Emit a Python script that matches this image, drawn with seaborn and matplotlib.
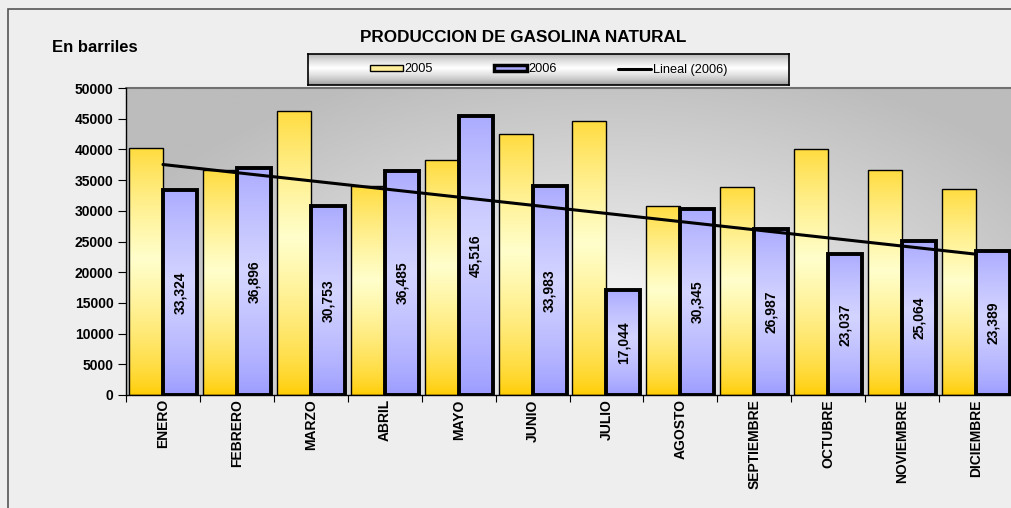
import numpy as np
import pandas as pd
import matplotlib
matplotlib.use("Agg")
import matplotlib.pyplot as plt
import seaborn as sns
from matplotlib.patches import Rectangle, Patch
from matplotlib.lines import Line2D
from matplotlib.colors import to_rgb

months = ["ENERO", "FEBRERO", "MARZO", "ABRIL", "MAYO", "JUNIO", "JULIO",
          "AGOSTO", "SEPTIEMBRE", "OCTUBRE", "NOVIEMBRE", "DICIEMBRE"]
prod_2005 = [40200, 36700, 46300, 34000, 38200, 42500, 44700,
             30800, 33800, 40100, 36700, 33600]
prod_2006 = [33324, 36896, 30753, 36485, 45516, 33983, 17044,
             30345, 26987, 23037, 25064, 23389]
years = ["2005", "2006"]
yticks = list(range(0, 50001, 5000))

sns.set_theme(style="white")
plt.rcParams['font.family'] = ['Liberation Sans', 'DejaVu Sans']
plt.rcParams['text.color'] = 'black'
plt.rcParams['xtick.color'] = 'black'
plt.rcParams['ytick.color'] = 'black'
plt.rcParams['axes.labelcolor'] = 'black'

df = pd.DataFrame({
    "mes": months * 2,
    "anio": [years[0]] * 12 + [years[1]] * 12,
    "valor": prod_2005 + prod_2006,
})

W, H = 1011, 508
fig = plt.figure(figsize=(W / 100, H / 100), dpi=100)
fig.patch.set_facecolor("#eeeeee")

# outer border
fig.add_artist(Rectangle((8 / W, -0.01), 1.02, 1 - 9 / H + 0.01, transform=fig.transFigure,
                         fill=False, edgecolor="#555555", linewidth=1.2))

pos = [126 / W, 1 - 395 / H, (W - 126) / W + 0.002, (395 - 88) / H]

# plot-area gradient background
bg = fig.add_axes(pos, zorder=0)
yy, xx = np.mgrid[0:1:300j, 0:1:600j]
cx, cy = 0.54, 0.22
d = np.sqrt(((xx - cx) / 0.6) ** 2 + ((yy - cy) / 0.9) ** 2)
d = np.clip(d, 0, 1) ** 0.85
white = np.array([1.0, 1.0, 1.0])
gray = np.array(to_rgb("#bcbcbc"))
img = white[None, None, :] * (1 - d[..., None]) + gray[None, None, :] * d[..., None]
bg.imshow(img, origin="lower", extent=[0, 1, 0, 1], aspect="auto")
bg.set_xlim(0, 1); bg.set_ylim(0, 1)
bg.axis("off")
bg.plot([0, 1], [1, 1], color="#707070", lw=1.5, transform=bg.transAxes, clip_on=False)

ax = fig.add_axes(pos, zorder=1)
ax.patch.set_alpha(0)

sns.barplot(data=df, x="mes", y="valor", hue="anio", order=months, hue_order=years,
            palette=["#ffcc00", "#9999ff"], width=0.92, legend=False, ax=ax,
            errorbar=None, saturation=1)

def grad_colors(c_edge, c_mid, n=256):
    t = np.linspace(0, 1, n)
    w = 1 - np.abs(t - 0.55) / 0.55
    w = np.clip(w, 0, 1) ** 0.7
    e = np.array(to_rgb(c_edge)); m = np.array(to_rgb(c_mid))
    return (e[None, :] * (1 - w[:, None]) + m[None, :] * w[:, None])[:, None, :]

g_yellow = grad_colors("#ffcc00", "#ffffcc")
g_blue = grad_colors("#9999ff", "#d4d4ff")

for cont, grad, lw in zip(ax.containers, [g_yellow, g_blue], [1.0, 2.8]):
    for p in cont.patches:
        x0, y0 = p.get_x(), p.get_y()
        w, h = p.get_width(), p.get_height()
        im = ax.imshow(grad, origin="lower", extent=[x0, x0 + w, y0, y0 + h],
                       aspect="auto", zorder=2)
        im.set_clip_path(p)
        p.set_facecolor("none")
        p.set_edgecolor("black")
        p.set_linewidth(lw)
        p.set_zorder(3)

# value labels for 2006
for p, v in zip(ax.containers[1].patches, prod_2006):
    ax.text(p.get_x() + p.get_width() / 2, v / 2, f"{v:,}", rotation=90,
            ha="center", va="center", fontsize=10, fontweight="bold", color="black", zorder=5)

# linear trend of 2006
xs = np.arange(len(months))
coef = np.polyfit(xs, prod_2006, 1)
ax.plot(xs, np.polyval(coef, xs), color="black", lw=2.2, zorder=4)

ax.set_xlim(-0.5, len(months) - 0.5)
ax.set_ylim(0, 50000)
ax.set_yticks(yticks)
ax.set_yticklabels([str(t) for t in yticks], fontsize=10, fontweight="bold", color="black")
ax.set_xticks(xs)
ax.set_xticklabels(months, rotation=90, fontsize=10, fontweight="bold", va="top", color="black")
ax.set_xticks(np.arange(-0.5, len(months), 1), minor=True)
ax.tick_params(axis="x", which="major", length=0, pad=3)
ax.tick_params(axis="x", which="minor", length=5, width=0.8, color="black", direction="out", bottom=True)
ax.tick_params(axis="y", length=6, width=0.8, color="black", direction="out", left=True, pad=3)
ax.set_xlabel(""); ax.set_ylabel("")
for s in ["top", "right"]:
    ax.spines[s].set_visible(False)
for s in ["left", "bottom"]:
    ax.spines[s].set_color("black")
    ax.spines[s].set_linewidth(1)

fig.text(523 / W, 1 - 38 / H, "PRODUCCION DE GASOLINA NATURAL", ha="center", va="center",
         fontsize=12.3, fontweight="bold", color="black")
fig.text(52 / W, 1 - 48 / H, "En barriles", ha="left", va="center",
         fontsize=12, fontweight="bold", color="black")

# legend box with metallic gradient
lax = fig.add_axes([308 / W, 1 - 85 / H, (789 - 308) / W, 31 / H], zorder=6)
t = np.linspace(0, 1, 100)
lg = 1 - np.abs(t - 0.55) / 0.55
shade = 0.55 + 0.45 * np.clip(lg, 0, 1) ** 0.6
lax.imshow(np.repeat(shade[:, None], 2, axis=1), cmap="gray", vmin=0, vmax=1,
           origin="lower", extent=[0, 1, 0, 1], aspect="auto")
lax.set_xticks([]); lax.set_yticks([])
for s in lax.spines.values():
    s.set_color("black"); s.set_linewidth(1.2)
handles = [Patch(facecolor="#ffee99", edgecolor="black", linewidth=1.0),
           Patch(facecolor="#aaaaff", edgecolor="black", linewidth=2.5),
           Line2D([0], [0], color="black", lw=2.2)]
leg = lax.legend(handles, ["2005", "2006", "Lineal (2006)"], ncol=3, loc="center",
                 frameon=False, fontsize=9.2, handlelength=2.6, handleheight=0.45,
                 handletextpad=0.1, columnspacing=4.8, bbox_to_anchor=(0.50, 0.5))
for txt in leg.get_texts():
    txt.set_color("black")

fig.savefig("out.png", dpi=100, facecolor=fig.get_facecolor())
